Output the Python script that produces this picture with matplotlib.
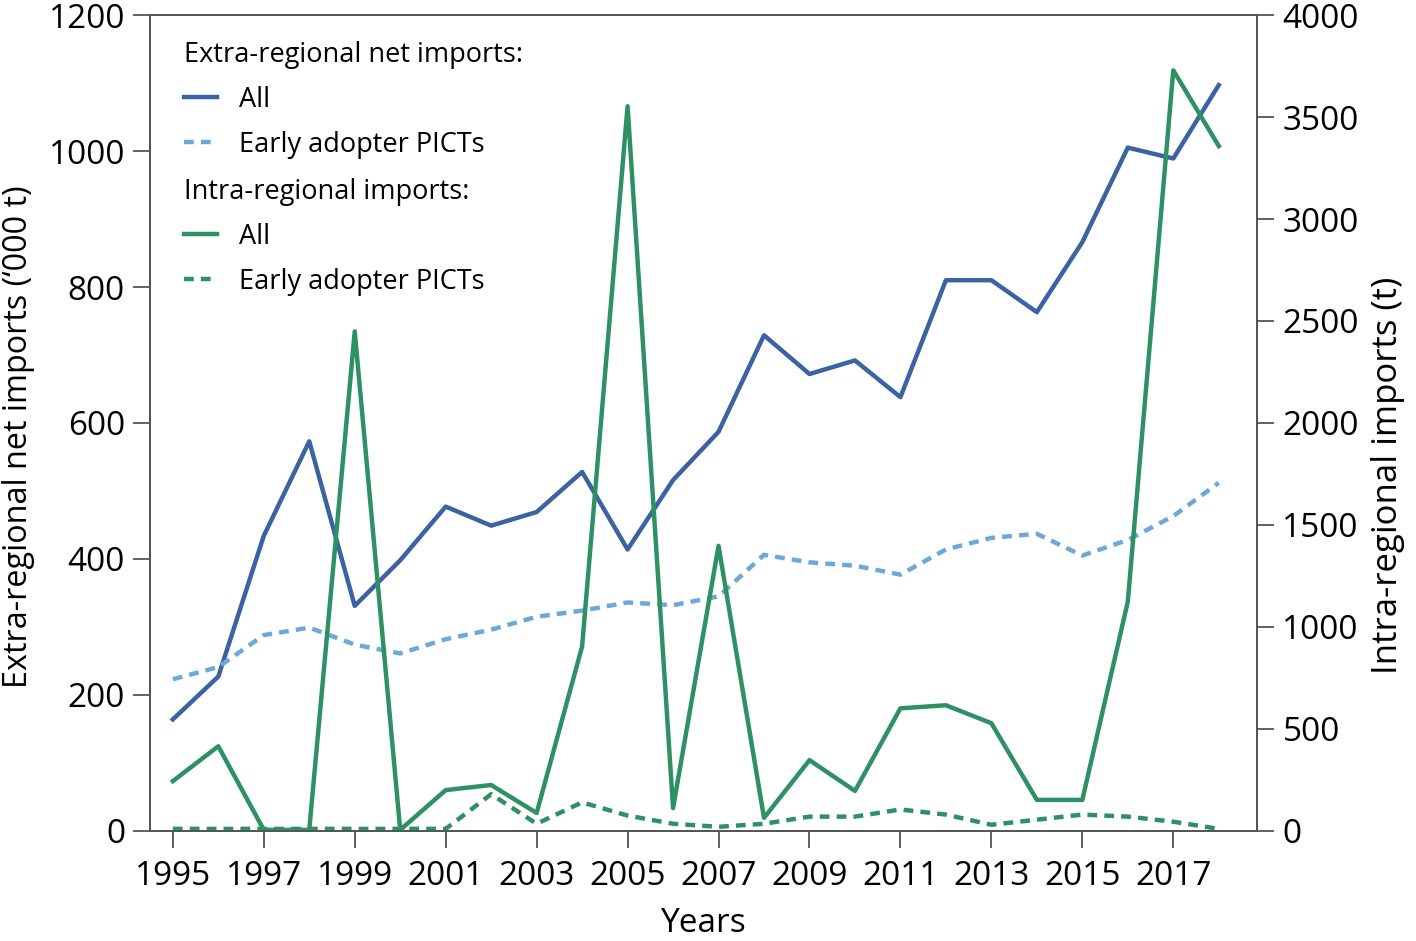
import matplotlib
matplotlib.use('Agg')
import matplotlib.pyplot as plt

plt.rcParams['font.family'] = ['Open Sans', 'DejaVu Sans']

# data
years = list(range(1995, 2019))

# extra-regional net imports ('000 t), left axis
extra_all = [164, 227, 434, 573, 331, 398, 477, 449, 469, 528, 414, 516,
             587, 729, 672, 692, 638, 810, 810, 763, 866, 1005, 989, 1097]
extra_early = [223, 241, 288, 299, 274, 261, 282, 296, 315, 324, 336, 332,
               345, 406, 395, 390, 377, 414, 431, 437, 405, 428, 463, 512]

# intra-regional imports (t), right axis
intra_all = [244, 415, 5, 5, 2449, 5, 200, 225, 88, 904, 3553, 112,
             1398, 64, 347, 196, 601, 616, 528, 152, 152, 1124, 3729, 3358]
intra_early = [10, 10, 10, 10, 10, 10, 10, 180, 35, 140, 75, 35,
               20, 35, 70, 70, 105, 80, 30, 55, 80, 70, 45, 10]

left_ticks = [0, 200, 400, 600, 800, 1000, 1200]
right_ticks = [0, 500, 1000, 1500, 2000, 2500, 3000, 3500, 4000]
year_ticks = list(range(1995, 2018, 2))

c_blue = '#3b62a3'
c_lblue = '#6aa9d8'
c_green = '#2e9163'

fig = plt.figure(figsize=(14.16, 9.41), dpi=100)
ax = fig.add_axes([0.106, 0.117, 0.782, 0.867])
ax2 = ax.twinx()

dash = (0, (2.2, 1.6))
l1, = ax.plot(years, extra_all, color=c_blue, lw=3.2, label='All')
l2, = ax.plot(years, extra_early, color=c_lblue, lw=3.2, ls=dash,
              label='Early adopter PICTs')
l3, = ax2.plot(years, intra_all, color=c_green, lw=3.2, label='All')
l4, = ax2.plot(years, intra_early, color=c_green, lw=3.2, ls=dash,
               label='Early adopter PICTs')

ax.set_xlim(1994.5, 2018.85)
ax.set_ylim(0, 1200)
ax2.set_ylim(0, 4000)
ax.set_xticks(year_ticks)
ax.set_yticks(left_ticks)
ax2.set_yticks(right_ticks)

for a in (ax, ax2):
    a.tick_params(labelsize=24, length=12, width=1.3, color='#555555',
                  direction='out', pad=6)
    for s in a.spines.values():
        s.set_color('#555555')
        s.set_linewidth(1.3)
ax.tick_params(axis='x', pad=9)

ax.set_xlabel('Years', fontsize=24, labelpad=10)
ax.set_ylabel('Extra-regional net imports (\u2018000 t)', fontsize=23.3)
ax2.set_ylabel('Intra-regional imports (t)', fontsize=25)
ax.yaxis.set_label_coords(-0.104, 0.483)
ax2.yaxis.set_label_coords(1.103, 0.436)

# legend: two blocks with headings
kw = dict(frameon=False, fontsize=19.5, title_fontsize=19.5, alignment='left',
          handlelength=1.22, handletextpad=0.8, labelspacing=0.62,
          borderpad=0, borderaxespad=0)
leg1 = ax2.legend([l1, l2], ['All', 'Early adopter PICTs'],
                  title='Extra-regional net imports:', loc='upper left',
                  bbox_to_anchor=(0.031, 0.968), **kw)
ax2.add_artist(leg1)
leg2 = ax2.legend([l3, l4], ['All', 'Early adopter PICTs'],
                  title='Intra-regional imports:', loc='upper left',
                  bbox_to_anchor=(0.031, 0.800), **kw)
for lg in (leg1, leg2):
    lg._legend_box.sep = 12

fig.savefig('out.png', dpi=100)
